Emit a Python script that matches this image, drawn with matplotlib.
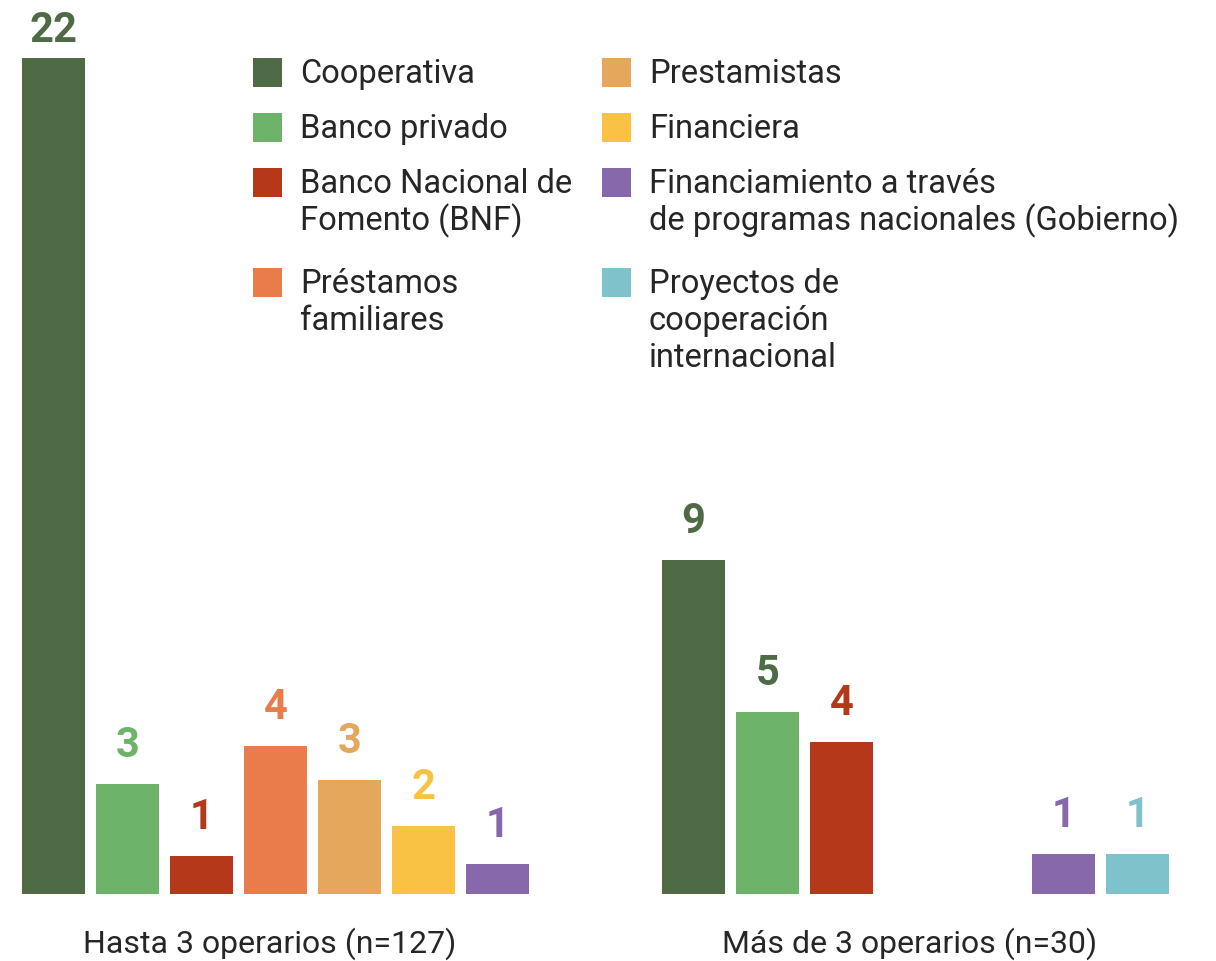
import matplotlib.pyplot as plt
import matplotlib.transforms as mtransforms
from matplotlib.patches import Rectangle

plt.rcParams['font.family'] = ['Roboto', 'DejaVu Sans']

# datos
categorias = ['Cooperativa', 'Banco privado', 'Banco Nacional de\nFomento (BNF)',
              'Préstamos\nfamiliares', 'Prestamistas', 'Financiera',
              'Financiamiento a través\nde programas nacionales (Gobierno)',
              'Proyectos de\ncooperación\ninternacional']
colores = ['#4f6b45', '#6db36a', '#b5381a', '#e87c4b',
           '#e4a75b', '#f9c244', '#8668ab', '#80c2cb']

grupos = ['Hasta 3 operarios (n=127)', 'Más de 3 operarios (n=30)']
hasta_3 = [22, 2.9, 1.0, 3.9, 3.0, 1.8, 0.8, 0]
mas_de_3 = [8.8, 4.8, 4.0, 0, 0, 0, 1.05, 1.05]
etiquetas_hasta_3 = ['22', '3', '1', '4', '3', '2', '1', '']
etiquetas_mas_de_3 = ['9', '5', '4', '', '', '', '1', '1']

W, H, DPI = 1216, 961, 100
PX_UNIDAD = 38.0      # pixeles por unidad en y
BASE_PX = 67          # linea base desde abajo
SLOT_PX = 74.0
X0_PX = 53.5

fig = plt.figure(figsize=(W / DPI, H / DPI), dpi=DPI)
ax = fig.add_axes([0, 0, 1, 1])
ax.set_xlim(-X0_PX / SLOT_PX, (W - X0_PX) / SLOT_PX)
ax.set_ylim(-BASE_PX / PX_UNIDAD, (H - BASE_PX) / PX_UNIDAD)
ax.axis('off')

texto = '#262626'
ancho = 63 / SLOT_PX
tope_etiqueta = (H - 42 - BASE_PX) / PX_UNIDAD

series = [(hasta_3, etiquetas_hasta_3, colores),
          (mas_de_3, etiquetas_mas_de_3, colores[:1] + colores[:1] + colores[2:])]
inicio = [0.0, 8.65]

for g, (valores, etiquetas, col_etq) in enumerate(series):
    pos = inicio[g]
    xs = []
    for i, v in enumerate(valores):
        if v == 0:
            pos += 2 / 3 if g == 1 else 1
            continue
        ax.bar(pos, v, width=ancho, color=colores[i], linewidth=0)
        desp = min(27, (tope_etiqueta - v) * PX_UNIDAD) * 72 / DPI
        ax.annotate(etiquetas[i], xy=(pos, v), xytext=(0, desp),
                    textcoords='offset points', ha='center', va='baseline',
                    fontsize=30, fontweight='bold', color=col_etq[i])
        xs.append(pos)
        pos += 1
    centro = (xs[0] + xs[-1]) / 2
    ax.annotate(grupos[g], xy=(centro, 0), xytext=(-4, -59 * 72 / DPI),
                textcoords='offset points', ha='center', va='baseline',
                fontsize=23, color=texto)

# leyenda manual (coordenadas en pixeles desde arriba a la izquierda)
px = mtransforms.Affine2D().scale(1 / W, -1 / H).translate(0, 1) + fig.transFigure
col_x = [253, 602]
fila_y = 83
for fila in range(4):
    n_lineas = 1
    for c in range(2):
        k = fila + 4 * c
        lineas = categorias[k].split('\n')
        n_lineas = max(n_lineas, len(lineas))
        fig.patches.append(Rectangle((col_x[c], fila_y - 11 - 14.5), 29, 29,
                                     transform=px, color=colores[k], linewidth=0))
        for j, lin in enumerate(lineas):
            fig.text(col_x[c] + 47, fila_y + 37 * j, lin, transform=px,
                     ha='left', va='baseline', fontsize=23.5, color=texto)
    fila_y += 55 + 45 * (n_lineas - 1)

fig.savefig('out.png', dpi=DPI)
